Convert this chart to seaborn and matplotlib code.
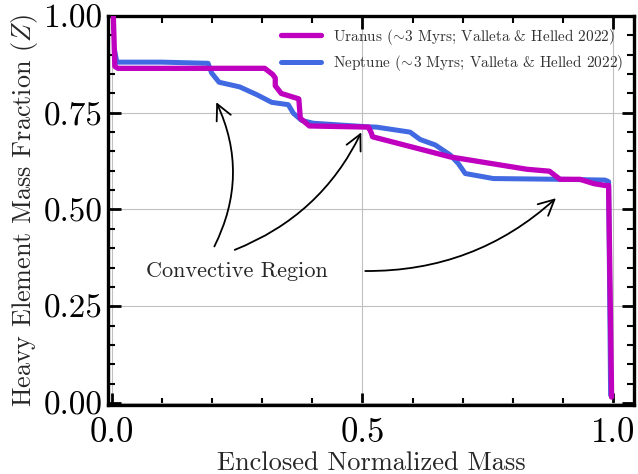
import matplotlib
matplotlib.use("Agg")
import matplotlib.pyplot as plt
import seaborn as sns
import numpy as np
import pandas as pd
from matplotlib.ticker import MultipleLocator, FormatStrFormatter

# ---- data ----
uranus_m = [0.003, 0.006, 0.012, 0.10, 0.20, 0.305, 0.321, 0.326, 0.326, 0.338, 0.373, 0.376,
            0.394, 0.512, 0.518, 0.520, 0.675, 0.828, 0.873, 0.894, 0.934, 0.961, 0.984, 0.991, 0.997]
uranus_z = [1.000, 0.870, 0.865, 0.865, 0.865, 0.865, 0.849, 0.840, 0.820, 0.800, 0.786, 0.736,
            0.716, 0.713, 0.697, 0.688, 0.636, 0.604, 0.599, 0.578, 0.578, 0.567, 0.562, 0.562, 0.015]

neptune_m = [0.005, 0.010, 0.10, 0.192, 0.199, 0.214, 0.255, 0.289, 0.319, 0.352, 0.362, 0.379,
             0.402, 0.508, 0.528, 0.595, 0.615, 0.645, 0.675, 0.691, 0.705, 0.761, 0.90, 0.984,
             0.991, 0.995]
neptune_z = [0.915, 0.881, 0.881, 0.878, 0.853, 0.829, 0.817, 0.797, 0.777, 0.771, 0.749, 0.730,
             0.723, 0.714, 0.713, 0.700, 0.681, 0.667, 0.641, 0.619, 0.593, 0.580, 0.578, 0.576,
             0.572, 0.020]

label_uranus = r"Uranus ($\!\sim\!$3 Myrs; Valleta & Helled 2022)"
label_neptune = r"Neptune ($\!\sim\!$3 Myrs; Valleta & Helled 2022)"

sns.set_style("ticks")
plt.rcParams.update({
    "font.family": "serif",
    "font.serif": ["cmr10"],
    "mathtext.fontset": "cm",
    "axes.formatter.use_mathtext": True,
    "axes.unicode_minus": False,
})

fig = plt.figure(figsize=(6.38, 4.74), dpi=100)
ax = fig.add_axes([0.169, 0.146, 0.825, 0.820])

dfu = pd.DataFrame({"m": uranus_m, "z": uranus_z})
dfn = pd.DataFrame({"m": neptune_m, "z": neptune_z})

sns.lineplot(data=dfu, x="m", y="z", sort=False, estimator=None, ax=ax,
             color="#BF00BF", lw=3.8, label=label_uranus, zorder=4)
sns.lineplot(data=dfn, x="m", y="z", sort=False, estimator=None, ax=ax,
             color="royalblue", lw=3.6, label=label_neptune, zorder=3)

ax.set_xlim(-0.008, 1.042)
ax.set_ylim(-0.005, 1.0)
ax.xaxis.set_major_locator(MultipleLocator(0.5))
ax.xaxis.set_minor_locator(MultipleLocator(0.1))
ax.yaxis.set_major_locator(MultipleLocator(0.25))
ax.yaxis.set_minor_locator(MultipleLocator(0.05))
ax.xaxis.set_major_formatter(FormatStrFormatter("%.1f"))
ax.yaxis.set_major_formatter(FormatStrFormatter("%.2f"))

ax.grid(True, which="major", color="#c0c0c0", lw=0.8)
ax.tick_params(which="both", direction="in", top=True, right=True, colors="black")
ax.tick_params(which="major", length=9, width=2)
ax.tick_params(which="minor", length=5, width=1.5)
ax.tick_params(axis="x", which="major", labelsize=25, pad=9)
ax.tick_params(axis="y", which="major", labelsize=24, pad=4)
for s in ax.spines.values():
    s.set_linewidth(2.4)
    s.set_color("black")

ax.set_xlabel("Enclosed Normalized Mass", fontsize=19, labelpad=2)
ax.set_ylabel(r"Heavy Element Mass Fraction $(Z)$", fontsize=18.8, labelpad=2)

leg = ax.legend(loc="upper right", frameon=False, fontsize=11, handlelength=2.6,
                borderaxespad=0.3, labelspacing=0.4)
for t in leg.get_texts():
    t.set_color("#333333")

ax.text(0.25, 0.341, "Convective Region", fontsize=16, ha="center", va="center")
arrow_kw = dict(arrowstyle="->", color="black", lw=1.3, mutation_scale=28)
ax.annotate("", xy=(0.206, 0.784), xytext=(0.202, 0.398),
            arrowprops=dict(connectionstyle="arc3,rad=0.25", **arrow_kw))
ax.annotate("", xy=(0.50, 0.706), xytext=(0.24, 0.393),
            arrowprops=dict(connectionstyle="arc3,rad=0.2", **arrow_kw))
ax.annotate("", xy=(0.89, 0.534), xytext=(0.50, 0.341),
            arrowprops=dict(connectionstyle="arc3,rad=0.2", **arrow_kw))

fig.savefig("out.png", dpi=100)
